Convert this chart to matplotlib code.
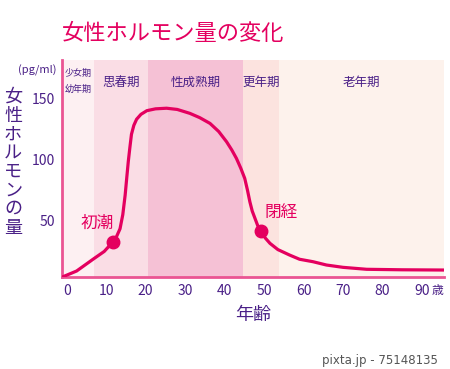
import matplotlib
matplotlib.use("Agg")
import matplotlib.pyplot as plt

plt.rcParams['font.family'] = ['Noto Sans CJK JP', 'DejaVu Sans']

# hormone level curve (age, pg/ml)
ages = [-1.2, 2.5, 6.7, 9.5, 11.6, 12.6, 13.5, 14.2, 14.8, 15.2, 15.6, 16.0,
        16.4, 17.0, 17.7, 18.8, 20.3, 22.5, 25.3, 28, 31.2, 33.7, 36.3, 38.5,
        40.5, 41.8, 43, 44.1, 45.1, 45.8, 46.4, 47.0, 47.7, 48.4, 49.2, 50.3,
        51.5, 53.5, 56.5, 59, 62.4, 65.8, 70, 76, 85, 95.7]
levels = [4, 9, 18.7, 25, 32.4, 37, 43.5, 55, 71, 85, 98.6, 110,
          120.7, 128, 133, 137, 140, 141.5, 142, 141, 137.8, 134.3, 129.6, 123,
          114.6, 108, 101, 93, 84.7, 75, 65.6, 58, 52, 46, 41.7, 36,
          31.6, 26.5, 22, 18.6, 16.6, 13.9, 12, 10.4, 10, 9.8]

events = ['初潮', '閉経']
event_ages = [11.6, 49.2]
event_levels = [32.4, 41.7]

stages = ['少女期\n幼年期', '思春期', '性成熟期', '更年期', '老年期']
stage_edges = [-1.2, 6.9, 20.6, 44.7, 53.8, 95.6]
stage_colors = ['#fdf0f2', '#fadde5', '#f5c1d5', '#fce3df', '#fdf2ec']

xticks = [0, 10, 20, 30, 40, 50, 60, 70, 80, 90]
yticks = [50, 100, 150]

pink = '#e4005f'
purple = '#4a2087'

fig = plt.figure(figsize=(4.5, 3.69), dpi=100)
ax = fig.add_axes([0.1378, 0.2493, 0.8489, 0.5881])
ax.set_xlim(-1.2, 95.6)
ax.set_ylim(4.1, 181.4)

for i in range(len(stages)):
    ax.axvspan(stage_edges[i], stage_edges[i + 1], color=stage_colors[i], lw=0, zorder=0)
    xc = (stage_edges[i] + stage_edges[i + 1]) / 2
    if i == 0:
        ax.text(xc, 164, stages[i], ha='center', va='center', fontsize=6.5,
                color=purple, linespacing=1.9)
    else:
        ax.text(xc, 163, stages[i], ha='center', va='center', fontsize=9,
                color=purple)

ax.plot(ages, levels, color=pink, lw=2.3, solid_capstyle='round',
        solid_joinstyle='round', zorder=3)
ax.plot(event_ages, event_levels, 'o', color=pink, ms=9, zorder=4)
ax.text(event_ages[0] - 3.9, event_levels[0] + 15.5, events[0], color=pink,
        fontsize=12, ha='center', va='center')
ax.text(event_ages[1] + 5.0, event_levels[1] + 15, events[1], color=pink,
        fontsize=12, ha='center', va='center')

for s in ['top', 'right']:
    ax.spines[s].set_visible(False)
for s in ['left', 'bottom']:
    ax.spines[s].set_color('#ea5593')
    ax.spines[s].set_linewidth(2)

ax.set_xticks(xticks)
ax.set_yticks(yticks)
ax.tick_params(length=0, colors=purple, labelsize=10, pad=5)

fig.text(0.973, 0.214, '歳', color=purple, fontsize=8.5, ha='center', va='center')
fig.text(0.562, 0.146, '年齢', color=purple, fontsize=13, ha='center', va='center')
fig.text(0.082, 0.81, '(pg/ml)', color=purple, fontsize=8, ha='center', va='center')
fig.text(0.029, 0.56, '\n'.join('女性ホルモンの量'), color=purple, fontsize=13,
         ha='center', va='center', linespacing=1.05)
fig.text(0.138, 0.91, '女性ホルモン量の変化', color=pink, fontsize=16,
         ha='left', va='center')
fig.text(0.972, 0.022, 'pixta.jp - 75148135', color='#555555', fontsize=8.5,
         ha='right', va='center', family='DejaVu Sans')

fig.savefig('out.png', dpi=100)
